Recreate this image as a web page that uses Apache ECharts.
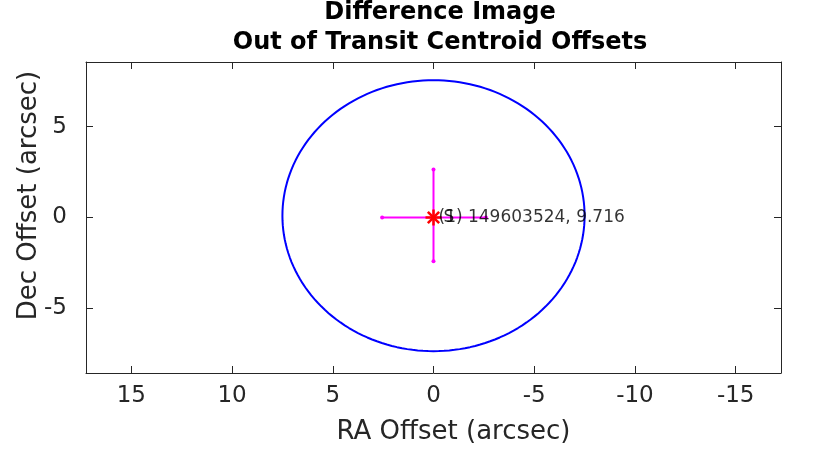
<!DOCTYPE html>
<html>
<head>
<meta charset="utf-8">
<script src="https://cdn.jsdelivr.net/npm/echarts@6/dist/echarts.min.js"></script>
<style>html,body{margin:0;padding:0;background:#fff;}#c{width:817px;height:465px;}</style>
</head>
<body>
<div id="c"></div>
<script>
// ---- data ----
const xTicks = [-15, -10, -5, 0, 5, 10, 15];
const yTicks = [-5, 0, 5];
const xRange = [-17.25, 17.25];
const yRange = [-8.55, 8.55];
const circleCenter = [0, 0.1];
const circleRadius = [7.5, 7.45];
const centroid = [0, 0];
const raBar = [2.55, -2.6];     // RA error bar ends
const decBar = [2.64, -2.4];    // Dec error bar ends
const labelMain = '(1) 149603524, 9.716';
const labelOverlay = 'S';

// circle outline points
const circlePts = [];
for (let i = 0; i <= 360; i += 2) {
  const a = i * Math.PI / 180;
  circlePts.push([circleCenter[0] + circleRadius[0] * Math.cos(a), circleCenter[1] + circleRadius[1] * Math.sin(a)]);
}

const axColor = '#262626';
const font = 'DejaVu Sans, Liberation Sans, Arial, sans-serif';

const chart = echarts.init(document.getElementById('c'));
const baseX = {
  type: 'value', min: xRange[0], max: xRange[1], inverse: true,
  splitLine: { show: false },
  axisLine: { show: true, onZero: false, lineStyle: { color: axColor, width: 1 } },
  axisTick: { show: true, inside: true, length: 7, customValues: xTicks, lineStyle: { color: axColor } },
};
const baseY = {
  type: 'value', min: yRange[0], max: yRange[1],
  splitLine: { show: false },
  axisLine: { show: true, onZero: false, lineStyle: { color: axColor, width: 1 } },
  axisTick: { show: true, inside: true, length: 7, customValues: yTicks, lineStyle: { color: axColor } },
};

chart.setOption({
  animation: false,
  backgroundColor: '#ffffff',
  title: {
    text: 'Difference Image\nOut of Transit Centroid Offsets',
    left: 435, top: -7, textAlign: 'center',
    textStyle: { fontFamily: font, fontSize: 24, fontWeight: 'bold', color: '#000', lineHeight: 30 }
  },
  grid: { left: 86, right: 36, top: 62, bottom: 92 },
  xAxis: [
    Object.assign({}, baseX, {
      position: 'bottom',
      name: 'RA Offset (arcsec)', nameLocation: 'middle', nameGap: 46,
      nameTextStyle: { fontFamily: font, fontSize: 26, color: axColor, padding: [0, 0, 0, 40] },
      axisLabel: { show: true, customValues: xTicks, margin: 12, fontFamily: font, fontSize: 23, color: axColor, formatter: v => String(v) }
    }),
    Object.assign({}, baseX, { position: 'top', axisLabel: { show: false } })
  ],
  yAxis: [
    Object.assign({}, baseY, {
      position: 'left',
      name: 'Dec Offset (arcsec)', nameLocation: 'middle', nameGap: 44, nameMoveOverlap: false,
      nameTextStyle: { fontFamily: font, fontSize: 26, color: axColor, padding: [0, 0, 0, 44] },
      axisLabel: { show: true, customValues: yTicks, margin: 19, fontFamily: font, fontSize: 23, color: axColor, formatter: v => String(v) }
    }),
    Object.assign({}, baseY, { position: 'right', axisLabel: { show: false } })
  ],
  series: [
    {
      type: 'line', data: circlePts, showSymbol: false, smooth: false,
      lineStyle: { color: '#0000ff', width: 2 }, z: 2
    },
    {
      type: 'line', data: [[raBar[0], centroid[1]], [raBar[1], centroid[1]]],
      symbol: 'circle', symbolSize: 4, showSymbol: true,
      itemStyle: { color: '#ff00ff' }, lineStyle: { color: '#ff00ff', width: 2 }, z: 3
    },
    {
      type: 'line', data: [[centroid[0], decBar[0]], [centroid[0], decBar[1]]],
      symbol: 'circle', symbolSize: 4, showSymbol: true,
      itemStyle: { color: '#ff00ff' }, lineStyle: { color: '#ff00ff', width: 2 }, z: 3
    },
    {
      type: 'custom', data: [centroid], z: 5,
      renderItem: function (params, api) {
        const p = api.coord([api.value(0), api.value(1)]);
        const r = 8, children = [];
        for (let k = 0; k < 4; k++) {
          const a = k * Math.PI / 4;
          children.push({
            type: 'line',
            shape: { x1: p[0] - r * Math.cos(a), y1: p[1] - r * Math.sin(a), x2: p[0] + r * Math.cos(a), y2: p[1] + r * Math.sin(a) },
            style: { stroke: '#ff0000', lineWidth: 2.5 }
          });
        }
        return { type: 'group', children: children };
      }
    },
    {
      type: 'scatter', data: [centroid], symbolSize: 0, z: 6,
      label: { show: true, position: 'right', distance: 5, formatter: labelMain, fontFamily: font, fontSize: 17, color: '#000' }
    },
    {
      type: 'scatter', data: [centroid], symbolSize: 0, z: 6,
      label: { show: true, position: 'right', distance: 10, formatter: labelOverlay, fontFamily: font, fontSize: 17, color: '#000' }
    }
  ]
});
</script>
</body>
</html>
